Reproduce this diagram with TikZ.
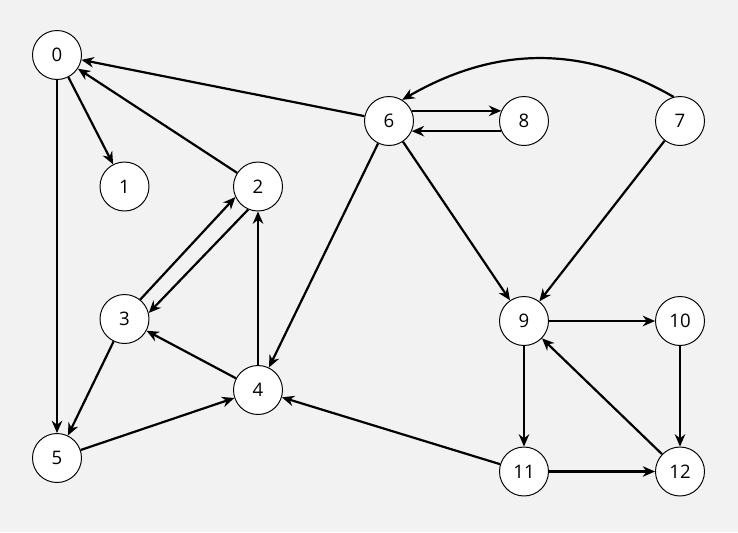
\documentclass[tikz,border=0pt]{standalone}
\usepackage{fontspec}
\setmainfont{Open Sans}
\usetikzlibrary{arrows.meta}
\definecolor{paper}{HTML}{F2F2F2}

\begin{document}
\begin{tikzpicture}[x=0.02cm,y=-0.02cm,
  vertex/.style={circle,draw,fill=white,line width=0.55pt,minimum size=0.98cm,inner sep=0pt,font=\fontsize{10.6}{12}\selectfont},
  arc/.style={-{Stealth[length=7pt,width=6pt]},line width=1.25pt}]
\fill[paper] (0,0) rectangle (738,532);
\useasboundingbox (0,0) rectangle (738,532);
\foreach \v/\x/\y in {0/57/55,1/124.5/186.5,2/258/186.5,3/124.5/319,4/258/390,5/57/458,6/389/121,7/680/121,8/524/121,9/524/321,10/680/321,11/524/471.5,12/680/471.5}
\node[vertex] (\v) at (\x,\y) {\v};
\foreach \from/\to in {0/1,0/5,2/0,6/0,3/5,4/3,4/2,5/4,6/4,6/9,7/9,9/10,9/11,10/12,11/12,11/4,12/9}
\draw[arc] (\from) -- (\to);
\draw[arc] (3.51) -- (2.205);
\draw[arc] (2.247) -- (3.14);
\draw[arc] (6.24) -- (8.156);
\draw[arc] (8.204) -- (6.336);
\draw[arc] (7.105) to[out=150,in=30] (6.58);
\end{tikzpicture}
\end{document}
